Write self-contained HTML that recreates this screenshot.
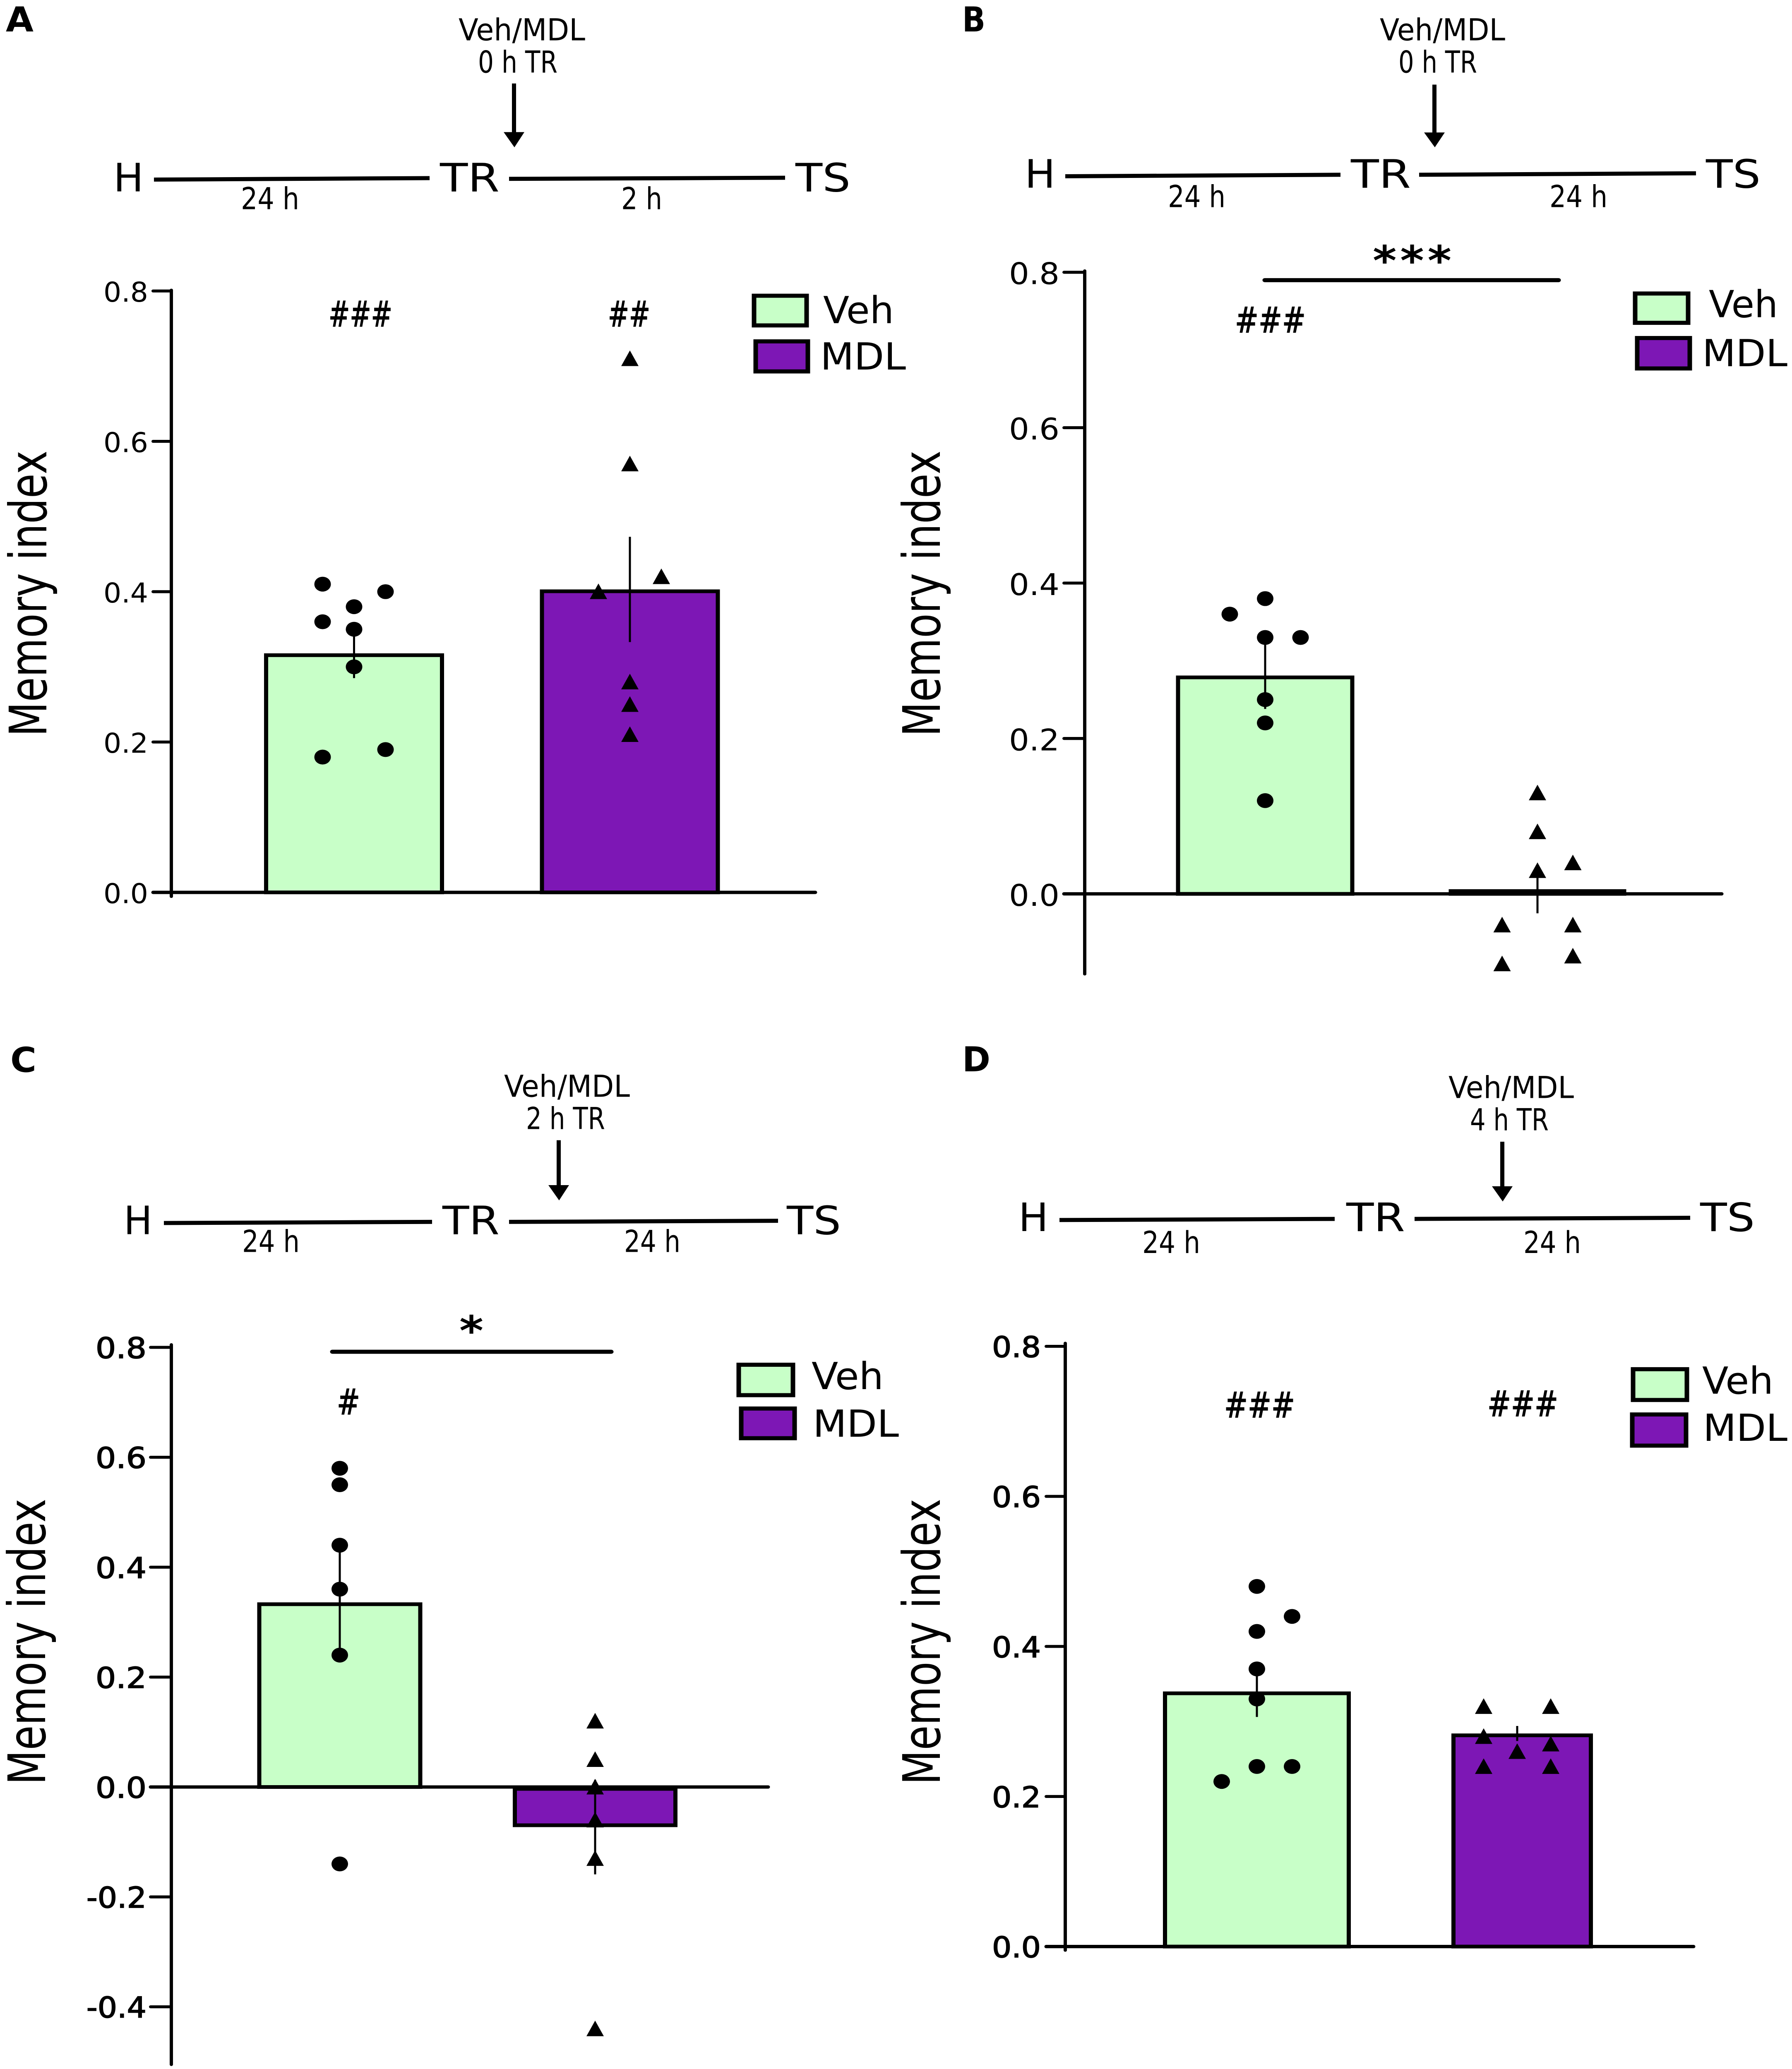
<!DOCTYPE html>
<html lang="en">
<head>
<meta charset="utf-8">
<title>Memory index panels A-D</title>
<style>
html,body{margin:0;padding:0;background:#fff;width:100%;height:100%}
svg{display:block;width:100vw;height:100vh}
text{font-family:"DejaVu Sans","Liberation Sans",sans-serif;fill:#000}
.s{font-size:82px}
.l{font-size:105px}
.g{font-size:100px}
.h{font-size:95px;stroke:#000;stroke-width:2px}
.p{font-size:92px;font-weight:bold}
.star{font-size:110px;font-weight:bold}
.ln{stroke:#000;stroke-width:11;fill:none}
.ar{stroke:#000;stroke-width:10;fill:none}
.veh{fill:#c8ffc8;stroke:#000;stroke-width:11}
.mdl{fill:#7d17b5;stroke:#000;stroke-width:11}
</style>
</head>
<body>
<svg id="fig" xmlns="http://www.w3.org/2000/svg" viewBox="0 0 4330 5576" preserveAspectRatio="none">
<rect width="4330" height="5576" fill="#fff"/>

<!-- Panel A schematic -->
<g>
<text class="p" x="14" y="85" textLength="67" lengthAdjust="spacingAndGlyphs">A</text>
<text class="s" x="1108" y="109" textLength="306" lengthAdjust="spacingAndGlyphs">Veh/MDL</text>
<text class="s" x="1155" y="196" textLength="192" lengthAdjust="spacingAndGlyphs">0 h TR</text>
<line class="ar" x1="1242" y1="225" x2="1242" y2="360"/>
<polygon points="1217,356 1267,356 1243,397"/>
<text class="l" x="274" y="516" textLength="73" lengthAdjust="spacingAndGlyphs">H</text>
<line class="ln" x1="372" y1="484" x2="1038" y2="480"/>
<text class="l" x="1063" y="516" textLength="144" lengthAdjust="spacingAndGlyphs">TR</text>
<line class="ln" x1="1230" y1="482" x2="1897" y2="479"/>
<text class="l" x="1922" y="516" textLength="133" lengthAdjust="spacingAndGlyphs">TS</text>
<text class="s" x="582" y="564" textLength="141" lengthAdjust="spacingAndGlyphs">24 h</text>
<text class="s" x="1501" y="564" textLength="99" lengthAdjust="spacingAndGlyphs">2 h</text>
<text class="h" x="794" y="880" textLength="154" lengthAdjust="spacingAndGlyphs">###</text>
<text class="h" x="1469" y="880" textLength="102" lengthAdjust="spacingAndGlyphs">##</text>
<rect class="veh" x="1822" y="797" width="127" height="80"/>
<rect class="mdl" x="1826" y="920" width="126" height="81"/>
<text class="g" x="1989" y="871" textLength="171" lengthAdjust="spacingAndGlyphs">Veh</text>
<text class="g" x="1982" y="996" textLength="207" lengthAdjust="spacingAndGlyphs">MDL</text>
</g>

<!-- Panel B schematic -->
<g>
<text class="p" x="2325" y="85" textLength="56" lengthAdjust="spacingAndGlyphs">B</text>
<text class="s" x="3334" y="109" textLength="303" lengthAdjust="spacingAndGlyphs">Veh/MDL</text>
<text class="s" x="3379" y="196" textLength="190" lengthAdjust="spacingAndGlyphs">0 h TR</text>
<line class="ar" x1="3466" y1="228" x2="3466" y2="360"/>
<polygon points="3441,357 3491,357 3467,397"/>
<text class="l" x="2476" y="506" textLength="74" lengthAdjust="spacingAndGlyphs">H</text>
<line class="ln" x1="2574" y1="475" x2="3239" y2="471"/>
<text class="l" x="3264" y="506" textLength="145" lengthAdjust="spacingAndGlyphs">TR</text>
<line class="ln" x1="3429" y1="471" x2="4098" y2="467"/>
<text class="l" x="4122" y="506" textLength="132" lengthAdjust="spacingAndGlyphs">TS</text>
<text class="s" x="2822" y="558" textLength="139" lengthAdjust="spacingAndGlyphs">24 h</text>
<text class="s" x="3744" y="558" textLength="140" lengthAdjust="spacingAndGlyphs">24 h</text>
<text class="star" x="3317" y="741" textLength="190" lengthAdjust="spacing">***</text>
<line class="ln" x1="3056" y1="755" x2="3766" y2="755" stroke-linecap="round"/>
<text class="h" x="2984" y="896" textLength="171" lengthAdjust="spacingAndGlyphs">###</text>
<rect class="veh" x="3951" y="791" width="128" height="79"/>
<rect class="mdl" x="3956" y="911" width="127" height="82"/>
<text class="g" x="4129" y="855" textLength="167" lengthAdjust="spacingAndGlyphs">Veh</text>
<text class="g" x="4113" y="987" textLength="206" lengthAdjust="spacingAndGlyphs">MDL</text>
</g>

<!-- Panel C schematic -->
<g>
<text class="p" x="25" y="2889" textLength="63" lengthAdjust="spacingAndGlyphs">C</text>
<text class="s" x="1218" y="2956" textLength="304" lengthAdjust="spacingAndGlyphs">Veh/MDL</text>
<text class="s" x="1271" y="3043" textLength="191" lengthAdjust="spacingAndGlyphs">2 h TR</text>
<line class="ar" x1="1350" y1="3073" x2="1350" y2="3198"/>
<polygon points="1325,3194 1375,3194 1351,3235"/>
<text class="l" x="299" y="3326" textLength="69" lengthAdjust="spacingAndGlyphs">H</text>
<line class="ln" x1="396" y1="3296" x2="1044" y2="3293"/>
<text class="l" x="1069" y="3326" textLength="138" lengthAdjust="spacingAndGlyphs">TR</text>
<line class="ln" x1="1230" y1="3293" x2="1880" y2="3290"/>
<text class="l" x="1901" y="3326" textLength="131" lengthAdjust="spacingAndGlyphs">TS</text>
<text class="s" x="585" y="3374" textLength="139" lengthAdjust="spacingAndGlyphs">24 h</text>
<text class="s" x="1508" y="3374" textLength="136" lengthAdjust="spacingAndGlyphs">24 h</text>
<text class="star" x="1110" y="3625" textLength="58" lengthAdjust="spacingAndGlyphs">*</text>
<line class="ln" x1="803" y1="3643" x2="1477" y2="3643" stroke-linecap="round"/>
<text class="h" x="814" y="3812" textLength="56" lengthAdjust="spacingAndGlyphs">#</text>
<rect class="veh" x="1785" y="3678" width="131" height="82"/>
<rect class="mdl" x="1791" y="3796" width="129" height="80"/>
<text class="g" x="1961" y="3744" textLength="174" lengthAdjust="spacingAndGlyphs">Veh</text>
<text class="g" x="1964" y="3872" textLength="208" lengthAdjust="spacingAndGlyphs">MDL</text>
</g>

<!-- Panel D schematic -->
<g>
<text class="p" x="2325" y="2887" textLength="68" lengthAdjust="spacingAndGlyphs">D</text>
<text class="s" x="3500" y="2959" textLength="303" lengthAdjust="spacingAndGlyphs">Veh/MDL</text>
<text class="s" x="3552" y="3046" textLength="190" lengthAdjust="spacingAndGlyphs">4 h TR</text>
<line class="ar" x1="3630" y1="3077" x2="3630" y2="3201"/>
<polygon points="3605,3197 3655,3197 3631,3238"/>
<text class="l" x="2461" y="3318" textLength="72" lengthAdjust="spacingAndGlyphs">H</text>
<line class="ln" x1="2560" y1="3288" x2="3225" y2="3285"/>
<text class="l" x="3253" y="3318" textLength="142" lengthAdjust="spacingAndGlyphs">TR</text>
<line class="ln" x1="3418" y1="3285" x2="4084" y2="3282"/>
<text class="l" x="4108" y="3318" textLength="132" lengthAdjust="spacingAndGlyphs">TS</text>
<text class="s" x="2760" y="3377" textLength="140" lengthAdjust="spacingAndGlyphs">24 h</text>
<text class="s" x="3681" y="3377" textLength="139" lengthAdjust="spacingAndGlyphs">24 h</text>
<text class="h" x="2958" y="3820" textLength="171" lengthAdjust="spacingAndGlyphs">###</text>
<text class="h" x="3594" y="3817" textLength="171" lengthAdjust="spacingAndGlyphs">###</text>
<rect class="veh" x="3946" y="3690" width="130" height="83"/>
<rect class="mdl" x="3944" y="3812" width="130" height="84"/>
<text class="g" x="4113" y="3756" textLength="172" lengthAdjust="spacingAndGlyphs">Veh</text>
<text class="g" x="4115" y="3883" textLength="204" lengthAdjust="spacingAndGlyphs">MDL</text>
</g>
</svg>

<script>
// Panel A data
const aTickValues = [0, 0.2, 0.4, 0.6, 0.8];
const aTickLabels = ['0.0', '0.2', '0.4', '0.6', '0.8'];
const aMeans = [0.318, 0.403];
const aErrors = [0.033, 0.07];
const aVehValues = [0.41, 0.36, 0.18, 0.38, 0.35, 0.30, 0.40, 0.19];
const aVehSlots = [-1, -1, -1, 0, 0, 0, 1, 1];
const aMdlValues = [0.40, 0.71, 0.57, 0.28, 0.25, 0.21, 0.42];
const aMdlSlots = [-1, 0, 0, 0, 0, 0, 1];

// Panel B data
const bTickValues = [0, 0.2, 0.4, 0.6, 0.8];
const bTickLabels = ['0.0', '0.2', '0.4', '0.6', '0.8'];
const bMeans = [0.281, 0.006];
const bErrors = [0.043, 0.031];
const bVehValues = [0.36, 0.38, 0.33, 0.25, 0.22, 0.12, 0.33];
const bVehSlots = [-1, 0, 0, 0, 0, 0, 1];
const bMdlValues = [-0.04, -0.09, 0.13, 0.08, 0.03, 0.04, -0.04, -0.08];
const bMdlSlots = [-1, -1, 0, 0, 0, 1, 1, 1];

// Panel C data
const cTickValues = [-0.4, -0.2, 0, 0.2, 0.4, 0.6, 0.8];
const cTickLabels = ['-0.4', '-0.2', '0.0', '0.2', '0.4', '0.6', '0.8'];
const cMeans = [0.336, -0.073];
const cErrors = [0.096, 0.086];
const cVehValues = [0.58, 0.55, 0.44, 0.36, 0.24, -0.14];
const cVehSlots = [0, 0, 0, 0, 0, 0];
const cMdlValues = [0.12, 0.05, 0, -0.06, -0.13, -0.44];
const cMdlSlots = [0, 0, 0, 0, 0, 0];

// Panel D data
const dTickValues = [0, 0.2, 0.4, 0.6, 0.8];
const dTickLabels = ['0.0', '0.2', '0.4', '0.6', '0.8'];
const dMeans = [0.34, 0.284];
const dErrors = [0.034, 0.01];
const dVehValues = [0.22, 0.48, 0.42, 0.37, 0.33, 0.24, 0.44, 0.24];
const dVehSlots = [-1, 0, 0, 0, 0, 0, 1, 1];
const dMdlValues = [0.32, 0.28, 0.24, 0.26, 0.32, 0.27, 0.24];
const dMdlSlots = [-1, -1, -1, 0, 1, 1, 1];

const NS = 'http://www.w3.org/2000/svg';
const fig = document.getElementById('fig');

function mk(parent, tag, attrs, txt) {
  const el = document.createElementNS(NS, tag);
  for (const k in attrs) el.setAttribute(k, attrs[k]);
  if (txt !== undefined) el.textContent = txt;
  parent.appendChild(el);
  return el;
}

function drawPanel(key, d, L) {
  const y = v => L.zeroY - v * L.unit;
  const barX = i => L.firstBar + i * L.barGap;
  const pointX = (i, slot) => barX(i) + L.pointShift[i] + slot * L.slotStep[i];

  const g = mk(fig, 'g', {});
  
  

  // y axis title
  const title = mk(g, 'text', {
    x: L.titleX, y: L.titleBottom, 'font-size': 125, textLength: 771, lengthAdjust: 'spacingAndGlyphs',
    transform: 'rotate(-90 ' + L.titleX + ' ' + L.titleBottom + ')'
  }, 'Memory index');
  
  

  // bars
  const fills = ['#c8ffc8', '#7d17b5'];
  const barNames = ['bar-veh', 'bar-mdl'];
  d.means.forEach((m, i) => {
    const w = L.barWidths[i];
    const top = Math.min(y(m), y(0));
    const bot = Math.max(y(m), y(0));
    const inset = L.barStroke / 2;
    const r = mk(g, 'rect', {
      x: barX(i) - w / 2 + inset, y: top + inset,
      width: w - L.barStroke, height: Math.max(bot - top - (m < 0 ? L.barStroke : inset), 1),
      fill: fills[i], stroke: '#000', 'stroke-width': L.barStroke
    });
    
    
  });

  // y axis line
  const axisY = mk(g, 'line', {
    x1: L.axisX, x2: L.axisX, y1: L.axisTop, y2: L.axisBottom,
    stroke: '#000', 'stroke-width': 8, 'stroke-linecap': 'round'
  });
  
  

  // ticks and labels
  d.ticks.forEach((t, i) => {
    const tick = mk(g, 'line', {
      x1: L.tickStart, x2: L.axisX, y1: y(t), y2: y(t),
      stroke: '#000', 'stroke-width': 8, 'stroke-linecap': 'round'
    });
    
    
    const lab = d.labels[i];
    const width = lab.length > 3 ? L.labelWidth * 1.18 : L.labelWidth;
    const label = mk(g, 'text', {
      x: L.labelRight - width, y: y(t) + L.labelDrop, 'font-size': L.labelSize,
      textLength: width, lengthAdjust: 'spacingAndGlyphs',
      stroke: '#000', 'stroke-width': L.labelStroke
    }, lab);
    
    
  });

  // x axis line
  const axisX = mk(g, 'line', {
    x1: L.tickStart, x2: L.xEnd, y1: y(0), y2: y(0),
    stroke: '#000', 'stroke-width': 9, 'stroke-linecap': 'round'
  });
  
  

  // error bars
  const errNames = ['error-bar-veh', 'error-bar-mdl'];
  d.means.forEach((m, i) => {
    const x = pointX(i, 0);
    const e = mk(g, 'line', {
      x1: x, x2: x, y1: y(m + d.errors[i]), y2: y(m - d.errors[i]),
      stroke: '#000', 'stroke-width': 5
    });
    
    
  });

  // points: circles for Veh, triangles for MDL
  d.vehValues.forEach((v, i) => {
    const c = mk(g, 'circle', { cx: pointX(0, d.vehSlots[i]), cy: y(v), r: 20, fill: '#000' });
    
    
  });
  d.mdlValues.forEach((v, i) => {
    const cx = pointX(1, d.mdlSlots[i]);
    const cy = y(v);
    const p = mk(g, 'polygon', {
      points: (cx - 21) + ',' + (cy + 20) + ' ' + (cx + 21) + ',' + (cy + 20) + ' ' + cx + ',' + (cy - 22),
      fill: '#000'
    });
    
    
  });
}

drawPanel('a',
  { ticks: aTickValues, labels: aTickLabels, means: aMeans, errors: aErrors,
    vehValues: aVehValues, vehSlots: aVehSlots, mdlValues: aMdlValues, mdlSlots: aMdlSlots },
  { zeroY: 2405, unit: 2026, axisX: 414, axisTop: 782, axisBottom: 2416, tickStart: 370, xEnd: 1970,
    firstBar: 855.5, barGap: 666.5, barWidths: [435, 435], barStroke: 10,
    pointShift: [0, 0], slotStep: [76, 76],
    labelRight: 358, labelWidth: 108, labelSize: 74, labelDrop: 29, labelStroke: 0,
    titleX: 112, titleBottom: 1985 });

drawPanel('b',
  { ticks: bTickValues, labels: bTickLabels, means: bMeans, errors: bErrors,
    vehValues: bVehValues, vehSlots: bVehSlots, mdlValues: bMdlValues, mdlSlots: bMdlSlots },
  { zeroY: 2409, unit: 2094, axisX: 2621, axisTop: 730, axisBottom: 2625, tickStart: 2571, xEnd: 4160,
    firstBar: 3057, barGap: 658, barWidths: [431, 429], barStroke: 10,
    pointShift: [0, 0], slotStep: [85.5, 85.5],
    labelRight: 2560, labelWidth: 122, labelSize: 80, labelDrop: 32, labelStroke: 0,
    titleX: 2271, titleBottom: 1985 });

drawPanel('c',
  { ticks: cTickValues, labels: cTickLabels, means: cMeans, errors: cErrors,
    vehValues: cVehValues, vehSlots: cVehSlots, mdlValues: cMdlValues, mdlSlots: cMdlSlots },
  { zeroY: 4816, unit: 1481, axisX: 414, axisTop: 3624, axisBottom: 5564, tickStart: 364, xEnd: 1856,
    firstBar: 821, barGap: 617, barWidths: [399, 398], barStroke: 10,
    pointShift: [0, 0], slotStep: [0, 0],
    labelRight: 354, labelWidth: 123, labelSize: 78, labelDrop: 29, labelStroke: 2,
    titleX: 109, titleBottom: 4810 });

drawPanel('d',
  { ticks: dTickValues, labels: dTickLabels, means: dMeans, errors: dErrors,
    vehValues: dVehValues, vehSlots: dVehSlots, mdlValues: dMdlValues, mdlSlots: dMdlSlots },
  { zeroY: 5246, unit: 2022, axisX: 2574, axisTop: 3620, axisBottom: 5256, tickStart: 2528, xEnd: 4092,
    firstBar: 3037, barGap: 641, barWidths: [454, 342], barStroke: 10,
    pointShift: [0, -12], slotStep: [85, 81],
    labelRight: 2515, labelWidth: 118, labelSize: 78, labelDrop: 29, labelStroke: 2,
    titleX: 2271, titleBottom: 4810 });
</script>
</body>
</html>
